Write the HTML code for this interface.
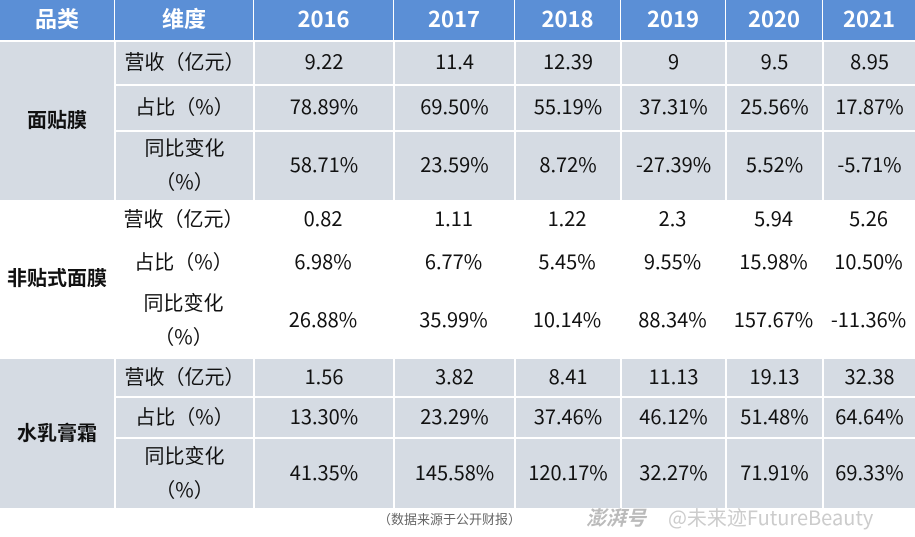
<!DOCTYPE html>
<html><head><meta charset="utf-8">
<style>
body{margin:0;width:915px;height:537px;background:#fff;overflow:hidden;font-family:"Noto Sans CJK SC","Liberation Sans",sans-serif;}
#t{position:absolute;left:0;top:0;width:915px;height:537px;}
.c{position:absolute;display:flex;align-items:center;justify-content:center;text-align:center;box-sizing:border-box;font-size:20px;color:#111;line-height:34px;padding-bottom:4px;}
.h{color:#fff;font-weight:bold;font-size:22px;}
.g{font-weight:bold;font-size:20px;}
.foot{position:absolute;top:509px;font-size:13px;color:#666;line-height:20px;}
</style></head><body>
<div id="t"></div>
<div class="foot" style="left:378px">（数据来源于公开财报）</div>
<div class="foot" style="left:586px;top:503px;font-size:20px;color:#bbb;font-style:italic;font-weight:bold;line-height:28px">澎湃号</div>
<div class="foot" style="left:668px;top:503px;font-size:20px;color:#ccc;line-height:28px">@未来迹FutureBeauty</div>
<script>
const years=["2016","2017","2018","2019","2020","2021"];
const groups=["面贴膜","非贴式面膜","水乳膏霜"];
const dims=["营收（亿元）","占比（%）","同比变化<br>（%）"];
const revenue=[["9.22","11.4","12.39","9","9.5","8.95"],["0.82","1.11","1.22","2.3","5.94","5.26"],["1.56","3.82","8.41","11.13","19.13","32.38"]];
const share=[["78.89%","69.50%","55.19%","37.31%","25.56%","17.87%"],["6.98%","6.77%","5.45%","9.55%","15.98%","10.50%"],["13.30%","23.29%","37.46%","46.12%","51.48%","64.64%"]];
const yoy=[["58.71%","23.59%","8.72%","-27.39%","5.52%","-5.71%"],["26.88%","35.99%","10.14%","88.34%","157.67%","-11.36%"],["41.35%","145.58%","120.17%","32.27%","71.91%","69.33%"]];
const colX=[0,114,253,393,514,620,725,822,915];
const groupRows=[[40,84,130,200],[200,240,285,357],[357,396,437,508]];
const groupBg=["#d5dbe3","#ffffff","#d5dbe3"];
const T=document.getElementById('t');
function cell(x0,x1,y0,y1,html,cls,bg){
  const d=document.createElement('div');
  d.className='c '+(cls||'');
  d.style.left=x0+'px';d.style.top=y0+'px';d.style.width=(x1-x0)+'px';d.style.height=(y1-y0)+'px';
  if(bg){d.style.background=bg;}
  d.innerHTML=html;
  T.appendChild(d);return d;
}
const hdr=["品类","维度"].concat(years);
for(let i=0;i<hdr.length;i++){
  const d=cell(colX[i]+(i?1:0),colX[i+1],0,40,hdr[i],'h','#5b8fd6');
  
  
}
for(let g=0;g<3;g++){
  const r=groupRows[g];const bg=groupBg[g];const line=g!==1;
  const gy0=r[0]+(line?2:0);
  const gc=cell(0,colX[1],gy0,r[3],groups[g],'g',bg);
  
  
  const rows=[revenue[g],share[g],yoy[g]];
  for(let k=0;k<3;k++){
    const y0=r[k]+(line?2:0),y1=r[k+1];
    const dc=cell(colX[1]+(line?2:0),colX[2],y0,y1,dims[k],'',bg);
    
    
    for(let j=0;j<6;j++){
      const vc=cell(colX[j+2]+(line?2:0),colX[j+3],y0,y1,rows[k][j],'',bg);
      
      
    }
  }
}
</script>
</body></html>
